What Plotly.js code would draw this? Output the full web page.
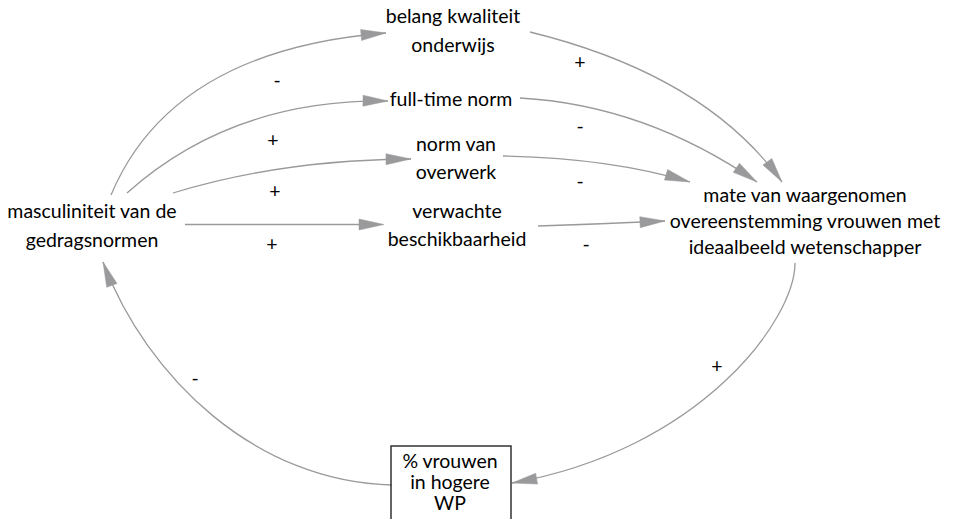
<!DOCTYPE html>
<html>
<head>
<meta charset="utf-8">
<script src="https://cdn.plot.ly/plotly-3.0.1.min.js"></script>
<style>html,body{margin:0;padding:0;background:#fff;}#chart{width:954px;height:519px;}</style>
</head>
<body>
<div id="chart"></div>
<script>
// ---- data: nodes and causal links ----
const nodeLabels = [
  "masculiniteit van de<br>gedragsnormen",
  "belang kwaliteit<br>onderwijs",
  "full-time norm",
  "norm van<br>overwerk",
  "verwachte<br>beschikbaarheid",
  "mate van waargenomen<br>overeenstemming vrouwen met<br>ideaalbeeld wetenschapper",
  "% vrouwen<br>in hogere<br>WP"
];
const edgeFrom = [0, 0, 0, 0, 1, 2, 3, 4, 5, 6];
const edgeTo   = [1, 2, 3, 4, 5, 5, 5, 5, 6, 0];
const edgeSign = ["-", "+", "+", "+", "+", "-", "-", "-", "+", "-"];

// ---- layout (positions in plot coordinates) ----
const nodeX = [92, 453, 451, 456, 457, 805, 450];
const nodeY = [213, 18, 101, 146, 213, 197, 463];   // centre of first line
const lineGap = [29, 29, 0, 28, 28, 26, 21];
const boxRect = [391, 446, 511, 535];

// per edge: start point, control points, arrow tip
const edgeStart = [[111,195],[127,193],[173,193],[185,224.5],[530,32],[520,98],[503,156],[538,226],[795,263],[392,485]];
const edgeCtrl  = [[[172,50]],[[232,99]],[[280,160]],[],[[705,75]],[[645,105]],[[610,158]],[[600,224]],[[795,320],[700,450]],[[256,482],[147,378]]];
const edgeTip   = [[386,33],[388,101],[411,159],[384,224.5],[782,182],[757,182],[690,182],[665,221],[512,483],[103,262]];
const signX = [277, 273, 275, 272, 580, 580, 580, 586, 717, 195];
const signY = [82, 142, 193, 246, 64, 128, 183, 246, 368, 380];

const FONT = "Lato, 'Open Sans', sans-serif";
const EDGE_COL = "#9a9a9c";
const HEAD_LEN = 25, HEAD_HALF = 5.5;

const shapes = [];
edgeFrom.forEach((f, i) => {
  const p0 = edgeStart[i], cs = edgeCtrl[i], tip = edgeTip[i];
  const prev = cs.length ? cs[cs.length - 1] : p0;
  let dx = tip[0] - prev[0], dy = tip[1] - prev[1];
  const L = Math.hypot(dx, dy); dx /= L; dy /= L;
  const bx = tip[0] - dx * HEAD_LEN, by = tip[1] - dy * HEAD_LEN;
  let path = `M ${p0[0]},${p0[1]} `;
  if (cs.length === 0) path += `L ${bx},${by}`;
  else if (cs.length === 1) path += `Q ${cs[0][0]},${cs[0][1]} ${tip[0]},${tip[1]}`;
  else path += `C ${cs[0][0]},${cs[0][1]} ${cs[1][0]},${cs[1][1]} ${tip[0]},${tip[1]}`;
  shapes.push({type: "path", xref: "x", yref: "y", path: path,
    line: {color: EDGE_COL, width: 1.3}, fillcolor: "rgba(0,0,0,0)", layer: "below"});
  const nx = -dy, ny = dx;
  const head = `M ${tip[0]},${tip[1]} L ${bx + nx*HEAD_HALF},${by + ny*HEAD_HALF} L ${bx - nx*HEAD_HALF},${by - ny*HEAD_HALF} Z`;
  shapes.push({type: "path", xref: "x", yref: "y", path: head,
    line: {color: EDGE_COL, width: 0.5}, fillcolor: EDGE_COL, layer: "above"});
});
shapes.push({type: "rect", xref: "x", yref: "y", x0: boxRect[0], y0: boxRect[1], x1: boxRect[2], y1: boxRect[3],
  line: {color: "#333333", width: 1.5}, fillcolor: "rgba(0,0,0,0)"});

// node text, one text point per line so line spacing can follow the original
const tx = [], ty = [], tt = [];
nodeLabels.forEach((lab, i) => {
  lab.split("<br>").forEach((ln, k) => {
    tx.push(nodeX[i]); ty.push(nodeY[i] + k * lineGap[i]); tt.push(ln);
  });
});

const traces = [
  {type: "scatter", mode: "text", x: tx, y: ty, text: tt, textposition: "middle center",
   textfont: {family: FONT, size: 19.5, color: "#000000"}, hoverinfo: "skip", showlegend: false},
  {type: "scatter", mode: "text", x: signX, y: signY, text: edgeSign, textposition: "middle center",
   textfont: {family: FONT, size: 19.5, color: "#000000"}, hoverinfo: "skip", showlegend: false}
];

const layout = {
  width: 954, height: 519,
  margin: {l: 0, r: 0, t: 0, b: 0, pad: 0},
  paper_bgcolor: "#ffffff", plot_bgcolor: "#ffffff",
  xaxis: {range: [0, 954], visible: false, fixedrange: true},
  yaxis: {range: [519, 0], visible: false, fixedrange: true},
  shapes: shapes,
  showlegend: false
};

Plotly.newPlot("chart", traces, layout, {displayModeBar: false, staticPlot: true});
</script>
</body>
</html>
